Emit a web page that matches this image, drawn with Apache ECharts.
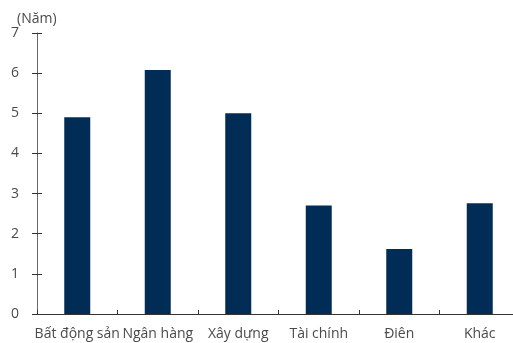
<!DOCTYPE html>
<html>
<head>
<meta charset="utf-8">
<script src="https://cdn.jsdelivr.net/npm/echarts@6/dist/echarts.min.js"></script>
<style>html,body{margin:0;padding:0;background:#fff;overflow:hidden;width:513px;height:343px}#c{width:520px;height:343px}</style>
</head>
<body>
<div id="c"></div>
<script>
const categories = ['Bất động sản', 'Ngân hàng', 'Xây dựng', 'Tài chính', 'Điên', 'Khác'];
const values = [4.9, 6.08, 5.0, 2.7, 1.62, 2.76];
const yTicks = [0, 1, 2, 3, 4, 5, 6, 7];
const unitLabel = '(Năm)';

const FONT = 'Open Sans';
const TXT = '#4a4a4a';
const chart = echarts.init(document.getElementById('c'), null, {renderer: 'canvas'});
chart.setOption({
  animation: false,
  title: {
    text: unitLabel, left: 12, top: 7,
    textStyle: {fontFamily: FONT, fontSize: 14, fontWeight: 'normal', color: TXT}
  },
  grid: {left: 37, right: 0, top: 33, bottom: 29, containLabel: false},
  xAxis: {
    type: 'category',
    data: categories,
    axisLine: {lineStyle: {color: '#333', width: 1}},
    axisTick: {show: true, inside: true, length: 4, interval: 0, lineStyle: {color: '#333'}},
    axisLabel: {fontFamily: FONT, fontSize: 14, color: TXT, margin: 13, interval: 0}
  },
  yAxis: [{
    type: 'value', min: yTicks[0], max: yTicks[yTicks.length - 1], interval: 1,
    splitLine: {show: false},
    axisLine: {show: true, lineStyle: {color: '#666'}},
    axisTick: {show: true, length: 5, lineStyle: {color: '#333'}},
    axisLabel: {fontFamily: FONT, fontSize: 14, color: TXT, margin: 18}
  }, {
    type: 'value', min: yTicks[0], max: yTicks[yTicks.length - 1], interval: 1,
    position: 'left',
    splitLine: {show: false},
    axisLine: {show: false},
    axisTick: {show: true, inside: true, length: 5, lineStyle: {color: '#333'}},
    axisLabel: {show: false}
  }],
  series: [{
    type: 'bar',
    data: values,
    barWidth: 26,
    itemStyle: {color: '#012c56'}
  }]
});
</script>
</body>
</html>
